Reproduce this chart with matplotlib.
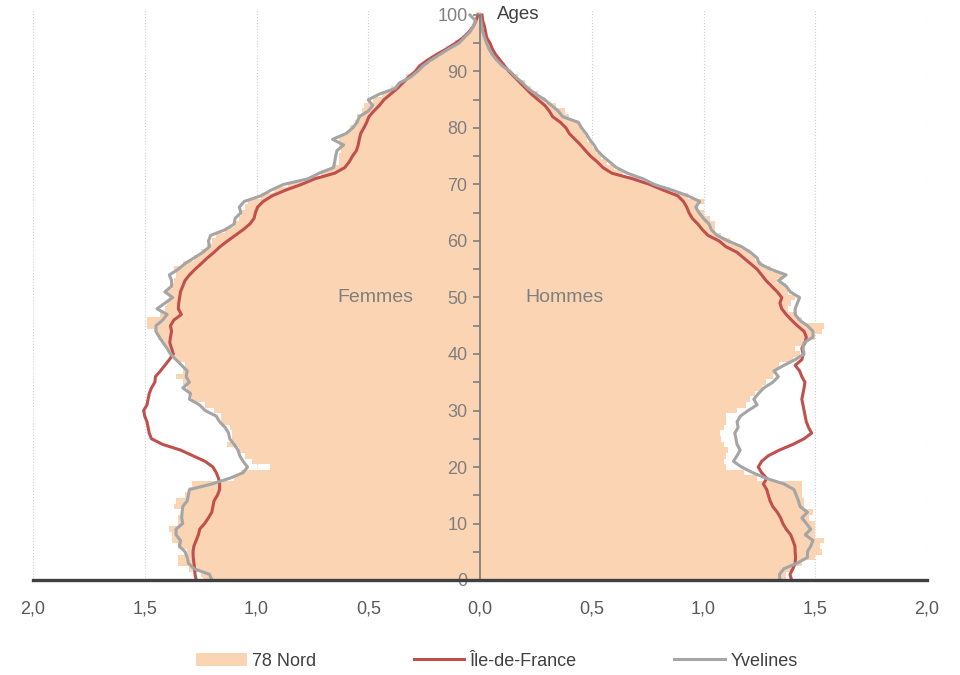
import matplotlib
matplotlib.use("Agg")
import matplotlib.pyplot as plt
import numpy as np

plt.rcParams['font.family'] = ['Liberation Sans', 'DejaVu Sans']

ages = list(range(0, 101))

# Femmes (left side), share of population in %
femmes_78nord = [1.24, 1.25, 1.30, 1.35, 1.35, 1.31, 1.35, 1.38, 1.38, 1.39,
                 1.35, 1.35, 1.34, 1.37, 1.36, 1.32, 1.30, 1.29, 1.10, 1.07,
                 0.94, 1.02, 1.05, 1.08, 1.13, 1.11, 1.11, 1.12, 1.16, 1.16,
                 1.19, 1.23, 1.29, 1.30, 1.31, 1.33, 1.36, 1.33, 1.32, 1.36,
                 1.38, 1.40, 1.42, 1.44, 1.45, 1.49, 1.49, 1.43, 1.41, 1.40,
                 1.39, 1.40, 1.38, 1.37, 1.36, 1.37, 1.33, 1.28, 1.25, 1.22,
                 1.20, 1.18, 1.14, 1.10, 1.08, 1.07, 1.05, 1.04, 0.98, 0.92,
                 0.86, 0.76, 0.71, 0.66, 0.63, 0.63, 0.62, 0.63, 0.63, 0.60,
                 0.58, 0.56, 0.55, 0.53, 0.52, 0.48, 0.44, 0.40, 0.35, 0.33,
                 0.29, 0.26, 0.22, 0.18, 0.15, 0.11, 0.08, 0.05, 0.03, 0.02,
                 0.02]
femmes_idf = [1.27, 1.275, 1.277, 1.28, 1.283, 1.284, 1.28, 1.27, 1.26, 1.254,
              1.232, 1.215, 1.20, 1.195, 1.19, 1.175, 1.165, 1.165, 1.17, 1.18,
              1.195, 1.23, 1.285, 1.34, 1.42, 1.47, 1.48, 1.485, 1.49, 1.50,
              1.505, 1.49, 1.485, 1.48, 1.47, 1.455, 1.452, 1.43, 1.41, 1.39,
              1.372, 1.38, 1.388, 1.385, 1.38, 1.385, 1.37, 1.336, 1.35, 1.348,
              1.344, 1.34, 1.33, 1.32, 1.30, 1.275, 1.247, 1.22, 1.19, 1.163,
              1.13, 1.095, 1.06, 1.03, 1.011, 1.005, 0.995, 0.97, 0.93, 0.87,
              0.80, 0.74, 0.65, 0.605, 0.585, 0.571, 0.553, 0.545, 0.54, 0.534,
              0.52, 0.507, 0.497, 0.475, 0.45, 0.43, 0.40, 0.37, 0.345, 0.32,
              0.29, 0.27, 0.235, 0.195, 0.15, 0.11, 0.075, 0.05, 0.03, 0.018,
              0.009]
femmes_yvelines = [1.20, 1.21, 1.28, 1.305, 1.31, 1.32, 1.345, 1.34, 1.36, 1.36,
                   1.33, 1.335, 1.333, 1.33, 1.31, 1.305, 1.30, 1.20, 1.12, 1.06,
                   1.04, 1.06, 1.075, 1.083, 1.10, 1.12, 1.125, 1.14, 1.165, 1.18,
                   1.23, 1.255, 1.30, 1.295, 1.33, 1.30, 1.315, 1.31, 1.335, 1.36,
                   1.385, 1.40, 1.418, 1.435, 1.45, 1.45, 1.42, 1.40, 1.445, 1.41,
                   1.375, 1.41, 1.38, 1.38, 1.39, 1.35, 1.32, 1.28, 1.24, 1.21,
                   1.215, 1.205, 1.14, 1.10, 1.096, 1.07, 1.077, 1.055, 0.98, 0.935,
                   0.88, 0.77, 0.72, 0.655, 0.65, 0.646, 0.64, 0.61, 0.66, 0.60,
                   0.57, 0.55, 0.54, 0.50, 0.48, 0.50, 0.45, 0.38, 0.36, 0.31,
                   0.28, 0.255, 0.22, 0.18, 0.14, 0.095, 0.07, 0.045, 0.03, 0.02,
                   0.045]

# Hommes (right side)
hommes_78nord = [1.37, 1.37, 1.40, 1.44, 1.50, 1.53, 1.52, 1.54, 1.50, 1.50,
                 1.50, 1.47, 1.49, 1.45, 1.45, 1.44, 1.44, 1.44, 1.24, 1.18,
                 1.10, 1.09, 1.10, 1.11, 1.09, 1.08, 1.075, 1.09, 1.10, 1.10,
                 1.15, 1.19, 1.21, 1.23, 1.26, 1.28, 1.31, 1.32, 1.34, 1.40,
                 1.43, 1.41, 1.45, 1.50, 1.53, 1.54, 1.44, 1.42, 1.38, 1.39,
                 1.41, 1.38, 1.37, 1.33, 1.35, 1.30, 1.26, 1.23, 1.21, 1.17,
                 1.12, 1.08, 1.05, 1.05, 1.03, 1.00, 0.97, 1.00, 0.93, 0.85,
                 0.77, 0.71, 0.64, 0.60, 0.57, 0.54, 0.52, 0.50, 0.48, 0.47,
                 0.45, 0.44, 0.40, 0.38, 0.34, 0.29, 0.26, 0.23, 0.20, 0.17,
                 0.14, 0.11, 0.09, 0.07, 0.05, 0.04, 0.03, 0.02, 0.01, 0.01,
                 0.005]
hommes_idf = [1.394, 1.387, 1.40, 1.41, 1.412, 1.41, 1.409, 1.40, 1.39, 1.37,
              1.355, 1.345, 1.33, 1.31, 1.298, 1.29, 1.283, 1.268, 1.283, 1.26,
              1.245, 1.26, 1.29, 1.34, 1.40, 1.45, 1.484, 1.47, 1.46, 1.455,
              1.45, 1.445, 1.44, 1.445, 1.45, 1.454, 1.44, 1.43, 1.41, 1.44,
              1.446, 1.44, 1.455, 1.46, 1.45, 1.42, 1.394, 1.37, 1.35, 1.342,
              1.35, 1.33, 1.305, 1.28, 1.26, 1.24, 1.21, 1.18, 1.15, 1.10,
              1.07, 1.02, 0.995, 0.975, 0.95, 0.935, 0.925, 0.91, 0.885, 0.82,
              0.76, 0.684, 0.59, 0.55, 0.525, 0.495, 0.472, 0.45, 0.425, 0.40,
              0.385, 0.36, 0.325, 0.31, 0.29, 0.26, 0.23, 0.205, 0.18, 0.155,
              0.13, 0.11, 0.09, 0.07, 0.055, 0.045, 0.03, 0.025, 0.02, 0.012,
              0.009]
hommes_yvelines = [1.342, 1.34, 1.36, 1.42, 1.465, 1.465, 1.48, 1.49, 1.455, 1.48,
                   1.46, 1.44, 1.465, 1.432, 1.425, 1.415, 1.405, 1.36, 1.28, 1.22,
                   1.17, 1.134, 1.15, 1.164, 1.15, 1.145, 1.14, 1.155, 1.15, 1.165,
                   1.20, 1.24, 1.225, 1.246, 1.27, 1.31, 1.335, 1.315, 1.36, 1.41,
                   1.45, 1.445, 1.45, 1.49, 1.49, 1.465, 1.43, 1.41, 1.41, 1.42,
                   1.43, 1.388, 1.37, 1.335, 1.37, 1.30, 1.25, 1.24, 1.21, 1.17,
                   1.11, 1.06, 1.035, 1.025, 1.00, 0.98, 0.965, 0.983, 0.93, 0.86,
                   0.78, 0.73, 0.66, 0.61, 0.58, 0.55, 0.525, 0.51, 0.49, 0.475,
                   0.455, 0.44, 0.37, 0.35, 0.32, 0.29, 0.25, 0.215, 0.19, 0.16,
                   0.135, 0.10, 0.075, 0.055, 0.04, 0.03, 0.02, 0.012, 0.008, 0.004,
                   0.0]

xticks = [-2.0, -1.5, -1.0, -0.5, 0.0, 0.5, 1.0, 1.5, 2.0]
xtick_labels = ["2,0", "1,5", "1,0", "0,5", "0,0", "0,5", "1,0", "1,5", "2,0"]

peach = '#FBD4B4'
red = '#C0504D'
grey = '#A5A5A5'

fig = plt.figure(figsize=(9.6, 6.75), dpi=100)
ax = fig.add_axes([33 / 960, 95 / 675, 894 / 960, 101 * 5.65 / 675])

# dotted vertical gridlines, kept below the bars
for xt in xticks:
    if xt != 0:
        ax.axvline(xt, linestyle=':', color='#CFCFCF', linewidth=0.8, zorder=0)

b = ax.barh(ages, [-v for v in femmes_78nord], height=1.0, color=peach, linewidth=0, zorder=1)
ax.barh(ages, hommes_78nord, height=1.0, color=peach, linewidth=0, zorder=1)
l1, = ax.plot([-v for v in femmes_idf], ages, color=red, lw=2.2, clip_on=False, zorder=2)
ax.plot(hommes_idf, ages, color=red, lw=2.2, clip_on=False, zorder=2)
l2, = ax.plot([-v for v in femmes_yvelines], ages, color=grey, lw=2.2, clip_on=False, zorder=2.1)
ax.plot(hommes_yvelines, ages, color=grey, lw=2.2, clip_on=False, zorder=2.1)

ax.set_xlim(-2, 2)
ax.set_ylim(0, 101)
ax.set_axisbelow(False)

ax.spines['top'].set_visible(False)
ax.spines['right'].set_visible(False)
ax.spines['left'].set_position(('data', 0))
ax.spines['left'].set_color('#7F7F7F')
ax.spines['left'].set_linewidth(1.3)
ax.spines['left'].set_bounds(0, 100)
ax.spines['bottom'].set_color('#404040')
ax.spines['bottom'].set_linewidth(2.4)
ax.spines['bottom'].set_zorder(4)

ax.set_yticks(range(0, 101, 10))
ax.set_yticks(range(0, 101, 5), minor=True)
ax.tick_params(axis='y', which='both', direction='out', length=5, width=1.2,
               color='#7F7F7F', labelcolor='#7F7F7F', labelsize=13, pad=4)
ax.set_xticks(xticks)
ax.set_xticklabels(xtick_labels)
ax.tick_params(axis='x', length=0, pad=15, labelsize=13, labelcolor='#595959')

ax.text(-0.30, 50, 'Femmes', ha='right', va='center', fontsize=14, color='#7F7F7F')
ax.text(0.205, 50, 'Hommes', ha='left', va='center', fontsize=14, color='#7F7F7F')
ax.text(0.075, 100, 'Ages', ha='left', va='center', fontsize=13.5, color='#404040')

fig.legend([b, l1, l2], ['78 Nord', 'Île-de-France', 'Yvelines'],
           loc='center', bbox_to_anchor=(0.5 + 17 / 960, 1 - 661 / 675), ncol=3, frameon=False,
           fontsize=13, handlelength=2.8, handletextpad=0.3, columnspacing=5.4,
           labelcolor='#404040')

fig.savefig('out.png', dpi=100)
